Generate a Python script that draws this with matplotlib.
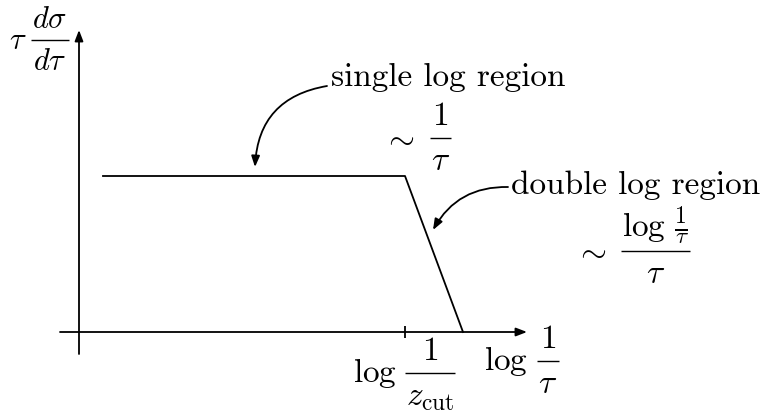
import matplotlib
matplotlib.use("Agg")
import matplotlib.pyplot as plt
from matplotlib.patches import FancyArrowPatch

plt.rcParams["mathtext.fontset"] = "cm"

# Schematic coordinates: origin at the axis crossing, 1 unit = 100 px.
# Piecewise spectrum: flat plateau, then a linear fall to zero.
profile_x = [0.24, 3.26, 3.84]
profile_y = [1.56, 1.56, 0.0]
tick_x = profile_x[1]

# Axis extents
x_axis = (-0.19, 4.48)
y_axis = (-0.22, 3.02)

single_text = "single log region"
double_text = "double log region"

FS = 24
LW = 1.3
k = "black"

fig = plt.figure(figsize=(7.64, 4.14), dpi=100)
ax = fig.add_axes([0, 0, 1, 1])
ax.set_xlim(-0.79, 6.85)
ax.set_ylim(-0.81, 3.33)
ax.axis("off")
renderer = fig.canvas.get_renderer()

EM = FS / 72.0          # one em in data units (100 px per unit at 100 dpi)
PX = 0.01               # one pixel in data units


def display_frac(cx, ybar, num, den, prefix=None, gap=0.0, fs=FS):
    """Display-style fraction with its bar centred at (cx, ybar)."""
    em = fs / 72.0
    tn = ax.text(cx, ybar + 0.427 * em, num, fontsize=fs,
                 ha="center", va="baseline")
    td = ax.text(cx, ybar - 0.936 * em, den, fontsize=fs,
                 ha="center", va="baseline")
    bn = tn.get_window_extent(renderer)
    bd = td.get_window_extent(renderer)
    bar_px = ax.transData.transform((cx, ybar))[1]
    need = bar_px + 0.14 * em / PX
    if bn.y0 < need:
        tn.set_y(tn.get_position()[1] + (need - bn.y0) * PX)
    w = max(bn.width, bd.width) * PX + 2 * PX
    ax.plot([cx - w / 2, cx + w / 2], [ybar, ybar], color=k, lw=1.0,
            solid_capstyle="butt")
    if prefix:
        ax.text(cx - w / 2 - gap, ybar - 0.25 * em, prefix, fontsize=fs,
                ha="right", va="baseline")


head = "-|>,head_length=0.65,head_width=0.25"

# Axes with arrowheads
ax.add_patch(FancyArrowPatch((x_axis[0], 0), (x_axis[1], 0), arrowstyle=head,
                             mutation_scale=10, lw=LW, color=k,
                             shrinkA=0, shrinkB=0))
ax.add_patch(FancyArrowPatch((0, y_axis[0]), (0, y_axis[1]), arrowstyle=head,
                             mutation_scale=10, lw=LW, color=k,
                             shrinkA=0, shrinkB=0))

# Tick at the cut
ax.plot([tick_x, tick_x], [-0.06, 0.06], color=k, lw=LW, solid_capstyle="butt")

# Spectrum
ax.plot(profile_x, profile_y, color=k, lw=LW)

# Axis labels
display_frac(-0.29, 2.92, r"$d\sigma$", r"$d\tau$", r"$\tau$", 0.05, fs=22)
display_frac(4.69, -0.29, r"$1$", r"$\tau$", r"$\log$", 0.09)
display_frac(3.51, -0.41, r"$1$", r"$z_{\mathrm{cut}}$", r"$\log$", 0.08)

# Region annotations
ax.text(2.52, 2.47, single_text, fontsize=FS, family="cmr10",
        ha="left", va="baseline")
display_frac(3.615, 1.94, r"$1$", r"$\tau$", r"$\sim$", 0.15)
ax.text(4.32, 1.39, double_text, fontsize=FS, family="cmr10",
        ha="left", va="baseline")
display_frac(5.765, 0.81, r"$\log\,\frac{1}{\tau}$", r"$\tau$", r"$\sim$", 0.14)

# Curved pointers
ax.add_patch(FancyArrowPatch((2.48, 2.46), (1.76, 1.65), arrowstyle=head,
                             connectionstyle="arc3,rad=0.4", mutation_scale=10,
                             lw=LW, color=k, shrinkA=0, shrinkB=0))
ax.add_patch(FancyArrowPatch((4.29, 1.45), (3.54, 1.02), arrowstyle=head,
                             connectionstyle="arc3,rad=0.3", mutation_scale=10,
                             lw=LW, color=k, shrinkA=0, shrinkB=0))

fig.savefig("out.png", dpi=100)
